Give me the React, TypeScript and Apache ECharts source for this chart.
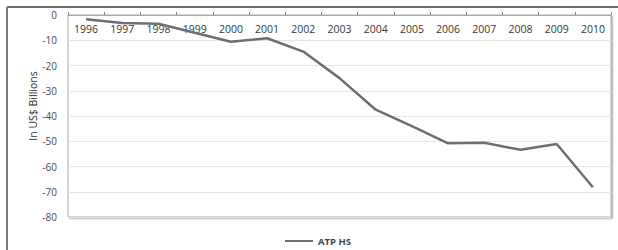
import React, { useEffect, useRef } from "react";
import * as echarts from "echarts";

const years = ["1996","1997","1998","1999","2000","2001","2002","2003","2004","2005","2006","2007","2008","2009","2010"];
const atpHs = [-1.7,-3.2,-3.5,-7,-10.6,-9.2,-14.5,-25,-37.5,-44,-50.8,-50.6,-53.4,-51.1,-68.2];
const seriesName = "ATP HS";
const yTitle = "In US$ Billions";

export default function App() {
  const ref = useRef<HTMLDivElement>(null);
  useEffect(() => {
    if (!ref.current) return;
    const chart = echarts.init(ref.current, null, { renderer: "svg" });
    const font = "'Open Sans', sans-serif";
    chart.setOption({
      animation: false,
      backgroundColor: "#ffffff",
      textStyle: { fontFamily: font },
      grid: {
        left: 68, top: 15, right: 7, bottom: 33, show: true,
        borderColor: "#a8a8a8", borderWidth: 1, backgroundColor: "#ffffff",
        shadowColor: "rgba(0,0,0,0.3)", shadowOffsetX: 1.5, shadowOffsetY: 1.5, shadowBlur: 1,
      },
      legend: {
        left: 280, top: 231, itemWidth: 28, itemHeight: 2, icon: "rect",
        itemGap: 4,
        textStyle: { fontSize: 9.5, fontWeight: "bold", color: "#444", fontFamily: font },
        data: [seriesName],
      },
      xAxis: {
        type: "category", data: years, position: "top", boundaryGap: true,
        axisLine: { show: true, lineStyle: { color: "#a8a8a8" } },
        axisTick: { show: true, inside: false, length: 3, lineStyle: { color: "#888" } },
        axisLabel: { inside: true, margin: 8, fontSize: 10.5, color: "#383838", fontFamily: font, interval: 0 },
        splitLine: { show: false },
      },
      yAxis: {
        type: "value", min: -80, max: 0, interval: 10,
        axisLine: { show: false }, axisTick: { show: false },
        axisLabel: { fontSize: 10, color: "#4a4a4a", margin: 11, fontFamily: font },
        splitLine: { lineStyle: { color: "#e6e6e6" } },
      },
      graphic: [
        { type: "line", shape: { x1: 7, y1: 7, x2: 618, y2: 7 }, style: { stroke: "#6e6e6e", lineWidth: 2 } },
        { type: "line", shape: { x1: 7, y1: 7, x2: 7, y2: 250 }, style: { stroke: "#7a7a7a", lineWidth: 2 } },
        { type: "text", x: 33, y: 106, rotation: Math.PI / 2, style: { text: yTitle, fontSize: 10.5, fill: "#2e2e2e", fontFamily: font, align: "center", verticalAlign: "middle" } },
      ],
      series: [{
        name: seriesName, type: "line", data: atpHs, symbol: "none",
        lineStyle: { color: "#6f6f6f", width: 2.5 }, itemStyle: { color: "#6f6f6f" },
      }],
    });
    return () => chart.dispose();
  }, []);
  return <div ref={ref} style={{ position: "fixed", left: 0, top: 0, width: 618, height: 250 }} />;
}
